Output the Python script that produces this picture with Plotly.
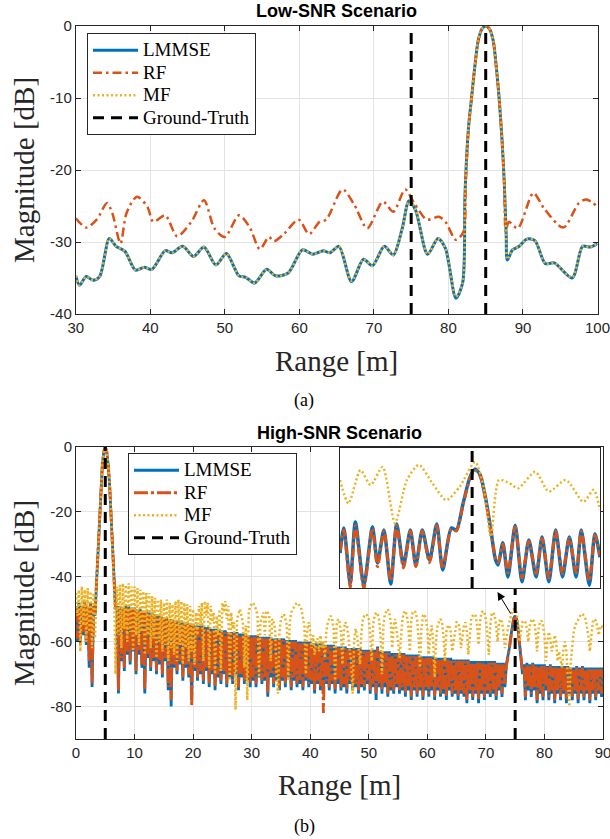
import numpy as np
import plotly.graph_objects as go

# ------------------------------------------------------------------ DATA
series_names = ["LMMSE", "RF", "MF", "Ground-Truth"]

# ---- (a) Low-SNR scenario ----
low_xticks = [30, 40, 50, 60, 70, 80, 90, 100]
low_yticks = [-40, -30, -20, -10, 0]
low_ytick_text = ["-40", "-30", "-20", "-10", "0"]
low_xrange = [30, 100]
low_yrange = [-40, 0]
low_truth = [75, 85]

low_x = [30.0, 30.5, 31.4, 32.3, 33.2, 34.5, 35.4, 36.6, 38.0, 39.2, 40.2, 42.0, 42.9,
         44.35, 45.8, 47.2, 48.8, 50.2, 51.9, 52.8, 54.0, 55.6, 56.8, 58.5, 60.4, 61.8,
         63.2, 64.1, 65.3, 67.0, 68.6, 69.8, 71.4, 72.6, 73.8, 74.7, 75.6, 77.2, 78.6,
         79.6, 81.0, 81.9, 82.2, 82.4, 82.7, 83.1, 83.5, 84.0, 84.5, 85.0, 85.5, 86.0,
         86.4, 86.8, 87.2, 87.5, 87.75, 87.9, 88.6, 89.5, 90.5, 91.6, 93.0, 94.2, 96.6,
         98.0, 99.0, 100.0]
low_lmmse = [-34.7, -36.0, -34.8, -35.3, -34.8, -29.5, -30.6, -31.3, -33.9, -33.5, -33.8, -31.2, -31.5,
             -30.6, -32.0, -30.7, -33.2, -31.6, -34.7, -34.9, -35.7, -33.8, -34.7, -34.3, -31.1, -31.7,
             -31.2, -31.5, -30.6, -35.5, -32.4, -33.3, -30.6, -31.8, -28.1, -24.3, -25.6, -31.7, -29.5,
             -30.9, -37.8, -35.7, -24.0, -19.0, -14.0, -10.0, -6.0, -2.0, -0.4, 0.0, -0.4, -2.0,
             -5.5, -10.0, -16.0, -22.0, -29.0, -32.5, -31.1, -30.6, -29.6, -29.8, -33.0, -32.9, -35.0,
             -30.6, -30.7, -30.2]
low_mf = [-34.7, -36.0, -34.8, -35.3, -34.8, -29.5, -30.6, -31.3, -33.9, -33.5, -33.8, -31.2, -31.5,
          -30.6, -32.0, -30.7, -33.2, -31.6, -34.7, -34.9, -35.7, -33.8, -34.7, -34.3, -31.1, -31.7,
          -31.2, -31.5, -30.6, -35.4, -32.4, -33.3, -30.6, -31.8, -28.1, -24.3, -25.6, -31.7, -29.5,
          -30.9, -37.6, -35.7, -24.0, -19.0, -14.0, -10.0, -6.0, -2.0, -0.4, 0.0, -0.4, -2.0,
          -5.5, -10.0, -16.0, -22.0, -29.0, -32.4, -31.1, -30.6, -29.6, -29.8, -33.0, -32.9, -34.9,
          -30.6, -30.7, -30.2]

low_x_rf = [30.0, 31.4, 32.8, 34.2, 34.9, 36.0, 36.8, 38.2, 39.6, 40.4, 42.0, 43.6, 45.5, 47.2,
            48.6, 50.0, 51.9, 53.3, 54.7, 55.9, 56.6, 58.0, 59.9, 61.3, 62.7, 63.6, 65.8, 67.4,
            69.1, 71.2, 72.6, 74.2, 75.4, 77.1, 78.7, 79.6, 81.0, 82.0, 82.3, 82.5, 82.7, 83.1,
            83.5, 84.0, 84.5, 85.0, 85.5, 86.0, 86.4, 86.8, 87.2, 87.5, 87.7, 88.1, 89.3, 91.4,
            92.8, 95.4, 97.5, 98.5, 100.0]
low_rf = [-26.7, -28.0, -26.9, -24.6, -26.0, -30.2, -26.0, -23.7, -25.1, -27.2, -26.3, -29.2, -27.2, -24.2,
          -28.1, -29.3, -26.3, -27.9, -31.0, -29.3, -29.9, -28.8, -26.9, -28.9, -27.2, -26.9, -22.7, -24.9,
          -28.1, -24.4, -25.8, -22.7, -24.6, -26.9, -26.5, -27.2, -29.7, -28.6, -22.0, -18.0, -14.0, -10.0,
          -6.0, -2.0, -0.4, 0.0, -0.4, -2.0, -5.5, -10.0, -16.0, -22.0, -28.6, -27.2, -28.1, -23.2,
          -25.3, -28.0, -24.6, -24.1, -25.1]

# ---- (b) High-SNR scenario (samples every 0.25 m, 0 .. 90 m) ----
high_xticks = [0, 10, 20, 30, 40, 50, 60, 70, 80, 90]
high_yticks = [-80, -60, -40, -20, 0]
high_ytick_text = ["-80", "-60", "-40", "-20", "0"]
high_xrange = [0, 90]
high_yrange = [-90, 0]
high_truth = [5, 75]
high_step = 0.25

high_lmmse = [
    -49, -60, -48, -60, -49, -58, -47.5, -61, -49, -68, -48, -74, -49, -52, -42, -32, -21, -12, -5.5, -1.4,
    0, -1.4, -5.5, -12, -21, -32, -42, -50, -49, -76, -49, -66, -49.5, -69, -49, -64, -49, -67, -49.5, -63,
    -49.5, -70, -50, -64, -50, -68, -50.5, -76, -50.5, -65, -51, -69, -51, -66, -51.5, -70, -52, -67, -52, -71,
    -52.5, -66, -52.5, -75, -53, -80, -53, -68, -53.5, -70, -53.5, -67, -54, -72, -54, -68, -54, -71, -54.5, -78,
    -54.5, -69, -55, -72, -55, -70, -55, -73, -55.5, -69, -55.5, -74, -56, -70, -56, -75, -56, -71, -56.5, -73,
    -56.5, -70, -56.5, -74, -57, -71, -57, -73, -57, -70, -57, -75, -57.5, -71, -57.5, -73, -57.5, -72, -58, -74,
    -58, -72, -58, -74, -58, -71, -58.5, -73, -58.5, -72, -58.5, -77, -58.5, -71, -59, -74, -59, -72, -59, -75,
    -59, -72, -59, -74, -59.5, -71, -59.5, -75, -59.5, -72, -59.5, -74, -60, -73, -60, -75, -60, -72, -60, -74,
    -60, -73, -60.5, -76, -60.5, -73, -60.5, -75, -60.5, -74, -61, -73, -61, -75, -61, -73, -61, -76, -61.5, -73,
    -61.5, -75, -61.5, -74, -61.5, -76, -62, -73, -62, -75, -62, -74, -62, -76, -62, -74, -62.5, -75, -62.5, -73,
    -62.5, -76, -62.5, -74, -62.5, -78, -61.5, -74, -63, -76, -63, -74, -63, -77, -63, -75, -63.5, -76, -63.5, -74,
    -63.5, -76, -63.5, -75, -63.5, -77, -64, -75, -64, -78, -64, -75, -64, -77, -64, -75, -64.5, -78, -64.5, -75,
    -64.5, -77, -64.5, -75, -64.5, -78, -65, -75, -65, -77, -65, -76, -65, -78, -65, -75, -65, -77, -65.5, -76,
    -65.5, -78, -65.5, -76, -65.5, -77, -65.5, -79, -65.5, -76, -66, -78, -66, -76, -66, -79, -66, -76, -66, -78,
    -66, -76, -66, -77, -66, -76, -66, -78, -66.5, -75, -66.5, -77, -66.5, -74, -67, -65, -62, -58.5, -55, -52.8,
    -52, -53, -56, -61, -66, -70, -67, -78, -66.5, -75, -67, -77, -66.5, -75, -67, -79, -67, -76, -67, -78,
    -67, -75, -67.5, -78, -67, -76, -67.5, -79, -67.5, -76, -67.5, -78, -67.5, -76, -67.5, -79, -67.5, -76, -68, -78,
    -68, -76, -67.5, -79, -68, -76, -67.5, -78, -68, -76, -68, -79, -68, -76, -68, -78, -68, -76, -68, -77,
    -68]

high_rf = [
    -49.5, -59, -48.5, -61, -49.5, -57, -48, -60, -49.5, -66, -48.5, -73, -49.5, -53, -42, -32, -21, -12, -5.5, -1.4,
    0, -1.4, -5.5, -12, -21, -32, -42, -50, -49.5, -75, -49.5, -65, -50, -68, -49.5, -63, -49.5, -66, -50, -62,
    -50, -69, -50.5, -63, -50.5, -67, -51, -75, -51, -64, -51.5, -68, -51.5, -65, -52, -69, -52.5, -66, -52.5, -70,
    -53, -65, -53, -74, -53.5, -78, -53.5, -67, -54, -69, -54, -66, -54.5, -71, -54.5, -67, -54.5, -70, -55, -80,
    -55, -68, -55.5, -71, -55.5, -69, -55.5, -72, -56, -68, -56, -73, -56.5, -69, -56.5, -74, -56.5, -70, -57, -72,
    -57, -69, -57, -73, -57.5, -70, -57.5, -72, -57.5, -69, -57.5, -74, -58, -70, -58, -72, -58, -71, -58.5, -73,
    -58.5, -71, -58.5, -73, -58.5, -70, -59, -72, -59, -71, -59, -76, -59, -70, -59.5, -73, -59.5, -71, -59.5, -74,
    -59.5, -71, -59.5, -73, -60, -70, -60, -74, -60, -71, -60, -73, -60.5, -72, -60.5, -74, -60.5, -71, -60.5, -73,
    -60.5, -72, -61, -75, -61, -72, -61, -74, -61, -82, -61.5, -72, -61.5, -74, -61.5, -72, -61.5, -75, -62, -72,
    -62, -74, -62, -73, -62, -75, -62.5, -72, -62.5, -74, -62.5, -73, -62.5, -75, -62.5, -73, -63, -74, -63, -72,
    -63, -75, -63, -73, -63, -76, -62, -73, -63.5, -75, -63.5, -73, -63.5, -76, -63.5, -74, -64, -75, -64, -73,
    -64, -75, -64, -74, -64, -76, -64.5, -74, -64.5, -77, -64.5, -74, -64.5, -76, -64.5, -74, -65, -77, -65, -74,
    -65, -76, -65, -74, -65, -77, -65.5, -74, -65.5, -76, -65.5, -75, -65.5, -77, -65.5, -74, -65.5, -76, -66, -75,
    -66, -77, -66, -75, -66, -76, -66, -78, -66, -75, -66.5, -77, -66.5, -75, -66.5, -78, -66.5, -75, -66.5, -77,
    -66.5, -75, -66.5, -76, -66.5, -75, -66.5, -77, -67, -74, -67, -76, -67, -73, -67.5, -65.5, -62.5, -59, -55.5, -53.2,
    -52.5, -53.5, -56.5, -61.5, -66.5, -69, -67.5, -77, -67, -74, -67.5, -76, -67, -74, -67.5, -78, -67.5, -75, -67.5, -77,
    -67.5, -74, -68, -77, -67.5, -75, -68, -78, -68, -75, -68, -77, -68, -75, -68, -78, -68, -75, -68.5, -77,
    -68.5, -75, -68, -78, -68.5, -75, -68, -77, -68.5, -75, -68.5, -78, -68.5, -75, -68.5, -77, -68.5, -75, -68.5, -76,
    -68.5]

high_mf = [
    -45, -52, -44, -63, -43, -55, -44, -60, -43.5, -57, -44.5, -62, -45, -59, -42, -32, -21, -12, -5.5, -1.4,
    0, -1.4, -5.5, -12, -21, -32, -44, -70, -43, -58, -42.5, -62, -42, -56, -42.5, -60, -42, -57, -43, -63,
    -43, -58, -43.5, -61, -44, -57, -44.5, -64, -45, -58, -45, -62, -46, -59, -46.5, -65, -47, -60, -47, -63,
    -48, -61, -47, -66, -48, -62, -48.5, -64, -47.5, -66, -47, -61, -47.5, -67, -48, -62, -48.5, -66, -49, -63,
    -50, -67, -51, -58, -49, -55, -48, -66, -47.5, -52, -48, -68, -49, -54, -51, -70, -52, -58, -50, -69,
    -48, -51, -47.5, -53, -49, -72, -51, -56, -54, -81, -53, -51, -50, -52, -54, -68, -55, -78, -51, -49,
    -48.5, -48, -49, -50, -52, -71, -54, -52, -51, -58, -50.5, -51, -52, -66, -53, -54, -56, -70, -76, -57,
    -53, -52, -51.5, -53, -55, -72, -54, -51, -50, -49, -48.5, -48, -48.5, -49, -50, -52, -55, -70, -56, -54,
    -57, -62, -58, -64, -60, -59, -63, -58, -62, -60, -65, -57, -54, -53, -52, -53, -56, -72, -55, -53,
    -54, -57, -67, -56, -54, -55, -58, -63, -66, -76, -60, -56, -58, -62, -67, -57, -53, -52, -51.5, -52,
    -53, -58, -66, -55, -52, -51, -51.5, -53, -58, -70, -55, -51.5, -50.5, -50, -51, -54, -62, -55, -53, -56,
    -60, -65, -58, -53, -51, -50.5, -52, -55, -63, -54, -51, -50.5, -51, -53, -59, -68, -56, -52, -51.5, -53,
    -56, -64, -58, -55, -60, -71, -59, -55, -54, -53, -54, -58, -66, -57, -55, -55, -57, -63, -60, -56,
    -54, -54, -56, -62, -58, -55, -54, -57, -64, -57, -53, -52, -51.5, -52, -55, -61, -54, -51, -50.5, -51,
    -53, -58, -64, -55, -51.5, -51, -52, -55, -60, -54, -53, -54, -57, -62, -58, -56, -54, -52, -50.5, -50,
    -50, -51, -54, -60, -56, -54, -53.5, -54, -56, -60, -55, -53.5, -53, -54, -57, -63, -56, -54, -53.5, -55,
    -58, -66, -60, -57, -59, -63, -61, -58, -60, -66, -63, -65, -68, -62, -60, -63, -70, -80, -66, -60,
    -57, -55, -54, -53, -52, -51.5, -51.5, -52, -53, -55, -58, -63, -57, -54, -53, -53.5, -55, -58, -56, -55,
    -56]

# ---- inset of (b): zoom around the 75 m target ----
inset_xrange = [71.9, 78.0]
inset_yrange = [-80.7, -46.6]
inset_truth = [75]
inset_x = [71.90, 71.99, 72.14, 72.26, 72.46, 72.66, 72.78, 72.93, 73.09, 73.23, 73.39, 73.55, 73.68,
           73.83, 74.00, 74.17, 74.31, 74.51, 74.63, 74.79, 74.95, 75.07, 75.19, 75.31, 75.44, 75.55,
           75.61, 75.72, 75.84, 76.01, 76.17, 76.33, 76.50, 76.64, 76.80, 76.96, 77.12, 77.28, 77.44,
           77.56, 77.75, 77.88, 78.00]
inset_lmmse = [-72.2, -66.1, -79.5, -64.6, -80.0, -65.8, -74.6, -66.6, -79.7, -65.1, -75.1, -66.6, -75.1,
               -66.6, -73.9, -65.1, -76.3, -66.1, -66.6, -60.0, -53.7, -51.7, -53.2, -58.5, -66.6, -73.9,
               -75.1, -69.7, -78.0, -65.4, -79.2, -69.0, -78.0, -68.3, -79.2, -66.6, -78.0, -68.3, -78.0,
               -66.6, -80.0, -67.5, -73.2]
inset_rf = [-71.5, -66.6, -80.5, -65.5, -80.7, -66.2, -75.5, -66.8, -79.0, -65.5, -75.8, -66.8, -75.5,
            -66.8, -74.5, -65.5, -76.0, -66.4, -66.8, -60.3, -54.0, -52.0, -53.5, -58.8, -66.8, -73.5,
            -74.5, -70.0, -77.0, -65.8, -78.3, -69.3, -77.2, -68.6, -78.3, -66.9, -77.2, -68.6, -77.0,
            -66.9, -79.0, -67.8, -72.8]
inset_x_mf = [71.90, 72.10, 72.38, 72.62, 72.90, 73.19, 73.47, 73.75, 74.07, 74.39, 74.71, 75.07,
              75.27, 75.44, 75.63, 75.88, 76.08, 76.48, 76.80, 77.20, 77.61, 77.85, 78.00]
inset_mf = [-54.4, -60.1, -52.0, -55.6, -51.2, -64.9, -54.4, -50.7, -55.2, -59.3, -56.0, -50.0,
            -56.0, -68.2, -54.4, -55.2, -56.4, -52.4, -57.2, -54.4, -59.7, -56.8, -61.7]

# ------------------------------------------------------------------ STYLE
W, H = 610, 839
C_LMMSE, C_RF, C_MF = "#0072BD", "#D95319", "#EDB120"
AX = "#262626"
GRID = "#e3e3e3"
SERIF = "Liberation Serif"
SANS = "Liberation Sans"
LEG_TXT = "<span style='font-size:19px'>{}</span>"

def px(x):
    return x / W

def py(y):
    return 1 - y / H

high_x = list(np.round(np.arange(len(high_lmmse)) * high_step, 2))

def truth_xy(vals, yr):
    xs, ys = [], []
    for v in vals:
        xs += [v, v, None]
        ys += [yr[0], yr[1], None]
    return xs, ys

fig = go.Figure()

# ---- (a) ----
fig.add_trace(go.Scatter(x=low_x, y=low_lmmse, mode="lines", name=LEG_TXT.format(series_names[0]),
                         line=dict(color=C_LMMSE, width=3, shape="spline", smoothing=0.8),
                         xaxis="x", yaxis="y", legend="legend"))
fig.add_trace(go.Scatter(x=low_x_rf, y=low_rf, mode="lines", name=LEG_TXT.format(series_names[1]),
                         line=dict(color=C_RF, width=2.5, dash="9px,4px,2.5px,4px", shape="spline", smoothing=0.8),
                         xaxis="x", yaxis="y", legend="legend"))
fig.add_trace(go.Scatter(x=low_x, y=low_mf, mode="lines", name=LEG_TXT.format(series_names[2]),
                         line=dict(color=C_MF, width=2.5, dash="2px,2.5px", shape="spline", smoothing=0.8),
                         xaxis="x", yaxis="y", legend="legend"))
tx, ty = truth_xy(low_truth, low_yrange)
fig.add_trace(go.Scatter(x=tx, y=ty, mode="lines", name=LEG_TXT.format(series_names[3]),
                         line=dict(color="black", width=3, dash="11px,7px"),
                         xaxis="x", yaxis="y", legend="legend"))

# ---- (b) ----
fig.add_trace(go.Scatter(x=high_x, y=high_lmmse, mode="lines", name=LEG_TXT.format(series_names[0]),
                         line=dict(color=C_LMMSE, width=2.8),
                         xaxis="x2", yaxis="y2", legend="legend2"))
fig.add_trace(go.Scatter(x=high_x, y=high_rf, mode="lines", name=LEG_TXT.format(series_names[1]),
                         line=dict(color=C_RF, width=2.8, dash="14px,3px,3px,3px"),
                         xaxis="x2", yaxis="y2", legend="legend2"))
fig.add_trace(go.Scatter(x=high_x, y=high_mf, mode="lines", name=LEG_TXT.format(series_names[2]),
                         line=dict(color=C_MF, width=2.5, dash="2px,2.5px"),
                         xaxis="x2", yaxis="y2", legend="legend2"))
tx, ty = truth_xy(high_truth, high_yrange)
fig.add_trace(go.Scatter(x=tx, y=ty, mode="lines", name=LEG_TXT.format(series_names[3]),
                         line=dict(color="black", width=3, dash="11px,7px"),
                         xaxis="x2", yaxis="y2", legend="legend2"))

# ---- inset ----
fig.add_trace(go.Scatter(x=inset_x, y=inset_lmmse, mode="lines", showlegend=False,
                         line=dict(color=C_LMMSE, width=3.5, shape="spline", smoothing=0.7),
                         xaxis="x3", yaxis="y3"))
fig.add_trace(go.Scatter(x=inset_x, y=inset_rf, mode="lines", showlegend=False,
                         line=dict(color=C_RF, width=3, dash="9px,3px,3px,3px", shape="spline", smoothing=0.7),
                         xaxis="x3", yaxis="y3"))
fig.add_trace(go.Scatter(x=inset_x_mf, y=inset_mf, mode="lines", showlegend=False,
                         line=dict(color=C_MF, width=2.5, dash="2px,2.5px", shape="spline", smoothing=0.7),
                         xaxis="x3", yaxis="y3"))
tx, ty = truth_xy(inset_truth, inset_yrange)
fig.add_trace(go.Scatter(x=tx, y=ty, mode="lines", showlegend=False,
                         line=dict(color="black", width=3, dash="11px,7px"),
                         xaxis="x3", yaxis="y3"))

tickfont = dict(family=SANS, size=15, color=AX)
common = dict(showline=True, linecolor=AX, linewidth=1, mirror="ticks", ticks="inside",
              ticklen=5, tickcolor=AX, showgrid=True, gridcolor=GRID, gridwidth=1,
              zeroline=False, tickfont=tickfont, automargin=False, ticklabeloverflow="allow")
inset_ax = dict(showline=True, linecolor=AX, linewidth=1, mirror=True, ticks="",
                showticklabels=False, showgrid=False, zeroline=False, automargin=False)

legend_common = dict(xanchor="left", yanchor="top", bgcolor="white", bordercolor=AX,
                     borderwidth=1, font=dict(family=SERIF, size=15, color="black"),
                     itemwidth=45, tracegroupgap=0)

fig.update_layout(
    width=W, height=H, margin=dict(l=0, r=0, t=0, b=0, autoexpand=False),
    paper_bgcolor="white", plot_bgcolor="white",
    xaxis=dict(domain=[px(75.8), px(597.5)], anchor="y", range=low_xrange,
               tickvals=low_xticks, **common),
    yaxis=dict(domain=[py(314), py(26)], anchor="x", range=low_yrange,
               tickvals=low_yticks, ticktext=low_ytick_text, **common),
    xaxis2=dict(domain=[px(76), px(603)], anchor="y2", range=high_xrange,
                tickvals=high_xticks, **common),
    yaxis2=dict(domain=[py(739), py(447)], anchor="x2", range=high_yrange,
                tickvals=high_yticks, ticktext=high_ytick_text, **common),
    xaxis3=dict(domain=[px(340), px(600)], anchor="y3", range=inset_xrange, **inset_ax),
    yaxis3=dict(domain=[py(588), py(448)], anchor="x3", range=inset_yrange, **inset_ax),
    legend=dict(x=px(87), y=py(33), **legend_common),
    legend2=dict(x=px(128), y=py(453), **legend_common),
    showlegend=True,
)

annots = [
    dict(text="<b>Low-SNR Scenario</b>", x=px(336), y=py(11),
         font=dict(family=SANS, size=18, color="black")),
    dict(text="<b>High-SNR Scenario</b>", x=px(339), y=py(433),
         font=dict(family=SANS, size=18, color="black")),
    dict(text="Magnitude [dB]", x=px(24), y=py(170), textangle=-90,
         font=dict(family=SERIF, size=29, color=AX)),
    dict(text="Magnitude [dB]", x=px(24), y=py(593), textangle=-90,
         font=dict(family=SERIF, size=29, color=AX)),
    dict(text="Range [m]", x=px(336), y=py(361),
         font=dict(family=SERIF, size=29, color=AX)),
    dict(text="Range [m]", x=px(339), y=py(785),
         font=dict(family=SERIF, size=29, color=AX)),
    dict(text="(a)", x=px(304), y=py(400), font=dict(family=SERIF, size=18, color="black")),
    dict(text="(b)", x=px(304), y=py(826), font=dict(family=SERIF, size=18, color="black")),
]
for a in annots:
    fig.add_annotation(xref="paper", yref="paper", showarrow=False,
                       xanchor="center", yanchor="middle", **a)

# arrow from the 75 m peak to the inset
fig.add_annotation(xref="paper", yref="paper", x=px(497.5), y=py(592), ax=14, ay=23,
                   axref="pixel", ayref="pixel", text="", showarrow=True,
                   arrowhead=2, arrowsize=1.6, arrowwidth=1, arrowcolor="black", standoff=0)

fig.write_html("out.html", config={"displayModeBar": False},
               post_script="document.body.style.margin='0px';document.body.style.overflow='hidden';")
